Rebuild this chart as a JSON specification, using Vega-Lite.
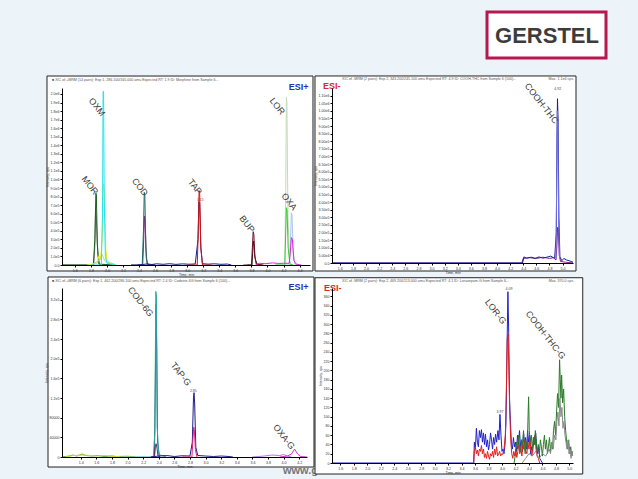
{
"$schema": "https://vega.github.io/schema/vega-lite/v6.json",
"autosize": {"type": "none"},
"padding": {"left": 62, "top": 88, "right": 576, "bottom": 391},
"background": "#edf4f9",
"config": {
  "view": {"stroke": null},
  "font": "Liberation Sans",
  "axis": {"domainColor": "#000000", "domainWidth": 1, "tickColor": "#000000", "tickSize": 2, "labelFontSize": 3.6, "labelColor": "#333333", "labelPadding": 1, "labelOverlap": false, "titleFontSize": 3.5, "titleFontWeight": "normal", "titleColor": "#333333", "titlePadding": 1, "grid": false},
  "text": {"font": "Liberation Sans"}
},
"datasets": {
  "p1": [
    {"s":"a","t":1.44,"i":0},{"s":"a","t":1.835,"i":0},{"s":"a","t":1.848,"i":200000},{"s":"a","t":1.858,"i":640000},{"s":"a","t":1.868,"i":550000},{"s":"a","t":1.885,"i":120000},{"s":"a","t":1.91,"i":0},{"s":"a","t":2.1,"i":0},
    {"s":"b","t":1.44,"i":0},{"s":"b","t":1.83,"i":0},{"s":"b","t":1.85,"i":300000},{"s":"b","t":1.862,"i":840000},{"s":"b","t":1.868,"i":820000},{"s":"b","t":1.88,"i":250000},{"s":"b","t":1.9,"i":10000},{"s":"b","t":2.1,"i":0},
    {"s":"c","t":1.75,"i":0},{"s":"c","t":1.88,"i":20000},{"s":"c","t":1.9,"i":110000},{"s":"c","t":1.92,"i":60000},{"s":"c","t":1.94,"i":300000},{"s":"c","t":1.955,"i":950000},{"s":"c","t":1.97,"i":850000},{"s":"c","t":1.985,"i":200000},{"s":"c","t":2.0,"i":50000},{"s":"c","t":2.05,"i":20000},{"s":"c","t":2.1,"i":0},
    {"s":"d","t":1.8,"i":0},{"s":"d","t":1.9,"i":50000},{"s":"d","t":1.94,"i":120000},{"s":"d","t":1.98,"i":40000},{"s":"d","t":2.06,"i":20000},{"s":"d","t":2.12,"i":0},
    {"s":"e","t":1.8,"i":0},{"s":"e","t":1.93,"i":0},{"s":"e","t":1.945,"i":600000},{"s":"e","t":1.952,"i":2030000},{"s":"e","t":1.958,"i":2030000},{"s":"e","t":1.966,"i":800000},{"s":"e","t":1.98,"i":100000},{"s":"e","t":2.0,"i":20000},{"s":"e","t":2.1,"i":0},
    {"s":"f","t":2.3,"i":0},{"s":"f","t":2.445,"i":0},{"s":"f","t":2.458,"i":300000},{"s":"f","t":2.468,"i":570000},{"s":"f","t":2.476,"i":500000},{"s":"f","t":2.49,"i":80000},{"s":"f","t":2.51,"i":0},{"s":"f","t":2.6,"i":0},
    {"s":"g","t":2.3,"i":0},{"s":"g","t":2.44,"i":0},{"s":"g","t":2.455,"i":400000},{"s":"g","t":2.465,"i":850000},{"s":"g","t":2.472,"i":820000},{"s":"g","t":2.485,"i":200000},{"s":"g","t":2.5,"i":10000},{"s":"g","t":2.6,"i":0},
    {"s":"h","t":2.38,"i":0},{"s":"h","t":2.44,"i":5000},{"s":"h","t":2.5,"i":12000},{"s":"h","t":2.56,"i":6000},{"s":"h","t":2.62,"i":14000},{"s":"h","t":2.7,"i":8000},{"s":"h","t":2.78,"i":15000},{"s":"h","t":2.86,"i":7000},{"s":"h","t":2.94,"i":13000},{"s":"h","t":3.02,"i":9000},{"s":"h","t":3.1,"i":12000},{"s":"h","t":3.135,"i":300000},{"s":"h","t":3.145,"i":740000},{"s":"h","t":3.155,"i":720000},{"s":"h","t":3.17,"i":200000},{"s":"h","t":3.19,"i":15000},{"s":"h","t":3.26,"i":10000},{"s":"h","t":3.34,"i":14000},{"s":"h","t":3.42,"i":8000},{"s":"h","t":3.5,"i":11000},{"s":"h","t":3.55,"i":0},
    {"s":"i","t":3.0,"i":0},{"s":"i","t":3.125,"i":0},{"s":"i","t":3.138,"i":400000},{"s":"i","t":3.148,"i":870000},{"s":"i","t":3.155,"i":850000},{"s":"i","t":3.17,"i":200000},{"s":"i","t":3.19,"i":0},{"s":"i","t":3.3,"i":0},
    {"s":"j","t":3.75,"i":0},{"s":"j","t":3.808,"i":0},{"s":"j","t":3.82,"i":220000},{"s":"j","t":3.828,"i":280000},{"s":"j","t":3.84,"i":120000},{"s":"j","t":3.86,"i":10000},{"s":"j","t":3.9,"i":0},
    {"s":"k","t":3.7,"i":0},{"s":"k","t":3.8,"i":0},{"s":"k","t":3.812,"i":200000},{"s":"k","t":3.822,"i":390000},{"s":"k","t":3.83,"i":360000},{"s":"k","t":3.845,"i":80000},{"s":"k","t":3.87,"i":10000},{"s":"k","t":3.95,"i":0},
    {"s":"l","t":4.1,"i":0},{"s":"l","t":4.215,"i":0},{"s":"l","t":4.228,"i":900000},{"s":"l","t":4.236,"i":1960000},{"s":"l","t":4.242,"i":1900000},{"s":"l","t":4.255,"i":600000},{"s":"l","t":4.275,"i":50000},{"s":"l","t":4.3,"i":0},
    {"s":"m","t":4.1,"i":0},{"s":"m","t":4.216,"i":0},{"s":"m","t":4.228,"i":400000},{"s":"m","t":4.236,"i":670000},{"s":"m","t":4.244,"i":640000},{"s":"m","t":4.258,"i":200000},{"s":"m","t":4.28,"i":10000},{"s":"m","t":4.32,"i":0},
    {"s":"n","t":4.2,"i":0},{"s":"n","t":4.275,"i":0},{"s":"n","t":4.288,"i":300000},{"s":"n","t":4.298,"i":610000},{"s":"n","t":4.306,"i":580000},{"s":"n","t":4.32,"i":150000},{"s":"n","t":4.34,"i":10000},{"s":"n","t":4.4,"i":0},
    {"s":"o","t":3.85,"i":0},{"s":"o","t":3.9,"i":20000},{"s":"o","t":3.98,"i":15000},{"s":"o","t":4.06,"i":25000},{"s":"o","t":4.14,"i":18000},{"s":"o","t":4.2,"i":20000},{"s":"o","t":4.27,"i":20000},{"s":"o","t":4.285,"i":150000},{"s":"o","t":4.298,"i":320000},{"s":"o","t":4.31,"i":300000},{"s":"o","t":4.33,"i":50000},{"s":"o","t":4.36,"i":10000},{"s":"o","t":4.42,"i":0}
  ],
  "p2": [
    {"s":"a","t":1.48,"i":0},{"s":"a","t":4.38,"i":0},{"s":"a","t":4.4,"i":30000},{"s":"a","t":4.5,"i":35000},{"s":"a","t":4.6,"i":30000},{"s":"a","t":4.7,"i":38000},{"s":"a","t":4.8,"i":30000},{"s":"a","t":4.86,"i":35000},{"s":"a","t":4.9,"i":20000},{"s":"a","t":4.915,"i":120000},{"s":"a","t":4.925,"i":235000},{"s":"a","t":4.935,"i":230000},{"s":"a","t":4.95,"i":50000},{"s":"a","t":4.97,"i":10000},{"s":"a","t":5.05,"i":5000},{"s":"a","t":5.16,"i":0},
    {"s":"b","t":1.48,"i":0},{"s":"b","t":4.39,"i":0},{"s":"b","t":4.41,"i":40000},{"s":"b","t":4.45,"i":32000},{"s":"b","t":4.52,"i":38000},{"s":"b","t":4.58,"i":30000},{"s":"b","t":4.64,"i":40000},{"s":"b","t":4.7,"i":32000},{"s":"b","t":4.76,"i":38000},{"s":"b","t":4.82,"i":45000},{"s":"b","t":4.86,"i":35000},{"s":"b","t":4.88,"i":32000},{"s":"b","t":4.905,"i":200000},{"s":"b","t":4.915,"i":800000},{"s":"b","t":4.923,"i":1080000},{"s":"b","t":4.932,"i":950000},{"s":"b","t":4.945,"i":300000},{"s":"b","t":4.96,"i":40000},{"s":"b","t":4.99,"i":15000},{"s":"b","t":5.02,"i":30000},{"s":"b","t":5.06,"i":20000},{"s":"b","t":5.1,"i":15000},{"s":"b","t":5.16,"i":5000},
    {"s":"c","t":4.9,"i":30000},{"s":"c","t":4.912,"i":600000},{"s":"c","t":4.92,"i":1000000},{"s":"c","t":4.93,"i":900000},{"s":"c","t":4.94,"i":300000},{"s":"c","t":4.955,"i":30000}
  ],
  "p3": [
    {"s":"a","t":1.16,"i":0},{"s":"a","t":1.25,"i":2000},{"s":"a","t":1.3,"i":4000},{"s":"a","t":1.35,"i":2000},{"s":"a","t":1.42,"i":6000},{"s":"a","t":1.46,"i":3000},{"s":"a","t":1.55,"i":2000},{"s":"a","t":1.62,"i":3000},{"s":"a","t":1.7,"i":1000},{"s":"a","t":1.8,"i":2000},{"s":"a","t":1.9,"i":0},
    {"s":"b","t":1.2,"i":0},{"s":"b","t":1.3,"i":3000},{"s":"b","t":1.45,"i":4000},{"s":"b","t":1.6,"i":2000},{"s":"b","t":1.7,"i":3000},{"s":"b","t":1.85,"i":1000},{"s":"b","t":2.0,"i":2000},{"s":"b","t":2.1,"i":0},
    {"s":"c","t":2.3,"i":0},{"s":"c","t":2.345,"i":0},{"s":"c","t":2.356,"i":150000},{"s":"c","t":2.366,"i":310000},{"s":"c","t":2.374,"i":220000},{"s":"c","t":2.385,"i":30000},{"s":"c","t":2.41,"i":0},
    {"s":"d","t":1.9,"i":0},{"s":"d","t":2.33,"i":0},{"s":"d","t":2.35,"i":50000},{"s":"d","t":2.362,"i":337000},{"s":"d","t":2.37,"i":330000},{"s":"d","t":2.38,"i":60000},{"s":"d","t":2.4,"i":5000},{"s":"d","t":2.5,"i":0},
    {"s":"e","t":2.3,"i":0},{"s":"e","t":2.345,"i":0},{"s":"e","t":2.358,"i":22000},{"s":"e","t":2.366,"i":27000},{"s":"e","t":2.378,"i":18000},{"s":"e","t":2.39,"i":2000},{"s":"e","t":2.42,"i":0},
    {"s":"f","t":2.3,"i":0},{"s":"f","t":2.4,"i":2000},{"s":"f","t":2.5,"i":3000},{"s":"f","t":2.6,"i":1000},{"s":"f","t":2.7,"i":2500},{"s":"f","t":2.8,"i":2000},{"s":"f","t":2.83,"i":30000},{"s":"f","t":2.845,"i":120000},{"s":"f","t":2.852,"i":131000},{"s":"f","t":2.86,"i":110000},{"s":"f","t":2.875,"i":20000},{"s":"f","t":2.9,"i":3000},{"s":"f","t":3.0,"i":2000},{"s":"f","t":3.1,"i":1000},{"s":"f","t":3.2,"i":2000},{"s":"f","t":3.3,"i":1000},{"s":"f","t":3.35,"i":0},
    {"s":"g","t":2.7,"i":0},{"s":"g","t":2.825,"i":0},{"s":"g","t":2.838,"i":35000},{"s":"g","t":2.848,"i":61000},{"s":"g","t":2.856,"i":55000},{"s":"g","t":2.87,"i":15000},{"s":"g","t":2.89,"i":0},
    {"s":"h","t":3.6,"i":0},{"s":"h","t":3.75,"i":2000},{"s":"h","t":3.85,"i":4000},{"s":"h","t":3.95,"i":3000},{"s":"h","t":4.0,"i":5000},{"s":"h","t":4.05,"i":2000},{"s":"h","t":4.1,"i":0},
    {"s":"i","t":3.95,"i":0},{"s":"i","t":4.05,"i":2000},{"s":"i","t":4.1,"i":6000},{"s":"i","t":4.14,"i":16000},{"s":"i","t":4.18,"i":6000},{"s":"i","t":4.22,"i":1000},{"s":"i","t":4.3,"i":0}
  ],
  "p4": [
    {"s":"a","t":1.48,"i":0},{"s":"a","t":3.58,"i":0},{"s":"a","t":3.59,"i":45},{"s":"a","t":3.605,"i":30},{"s":"a","t":3.62,"i":75},{"s":"a","t":3.635,"i":45},{"s":"a","t":3.65,"i":35},{"s":"a","t":3.665,"i":70},{"s":"a","t":3.68,"i":55},{"s":"a","t":3.695,"i":72},{"s":"a","t":3.71,"i":45},{"s":"a","t":3.725,"i":65},{"s":"a","t":3.74,"i":40},{"s":"a","t":3.755,"i":62},{"s":"a","t":3.77,"i":35},{"s":"a","t":3.785,"i":50},{"s":"a","t":3.8,"i":28},{"s":"a","t":3.815,"i":40},{"s":"a","t":3.83,"i":65},{"s":"a","t":3.845,"i":50},{"s":"a","t":3.86,"i":30},{"s":"a","t":3.875,"i":55},{"s":"a","t":3.89,"i":40},{"s":"a","t":3.905,"i":62},{"s":"a","t":3.92,"i":45},{"s":"a","t":3.94,"i":70},{"s":"a","t":3.955,"i":50},{"s":"a","t":3.97,"i":105},{"s":"a","t":3.985,"i":60},{"s":"a","t":4.0,"i":25},{"s":"a","t":4.015,"i":30},{"s":"a","t":4.03,"i":20},{"s":"a","t":4.045,"i":40},{"s":"a","t":4.06,"i":90},{"s":"a","t":4.075,"i":250},{"s":"a","t":4.088,"i":370},{"s":"a","t":4.1,"i":280},{"s":"a","t":4.112,"i":140},{"s":"a","t":4.125,"i":90},{"s":"a","t":4.14,"i":40},{"s":"a","t":4.155,"i":30},{"s":"a","t":4.17,"i":55},{"s":"a","t":4.185,"i":35},{"s":"a","t":4.2,"i":45},{"s":"a","t":4.215,"i":25},{"s":"a","t":4.23,"i":60},{"s":"a","t":4.245,"i":40},{"s":"a","t":4.26,"i":70},{"s":"a","t":4.275,"i":35},{"s":"a","t":4.29,"i":50},{"s":"a","t":4.305,"i":25},{"s":"a","t":4.32,"i":65},{"s":"a","t":4.335,"i":40},{"s":"a","t":4.35,"i":55},{"s":"a","t":4.365,"i":30},{"s":"a","t":4.38,"i":70},{"s":"a","t":4.395,"i":45},{"s":"a","t":4.41,"i":60},{"s":"a","t":4.425,"i":20},{"s":"a","t":4.44,"i":35},{"s":"a","t":4.455,"i":25},{"s":"a","t":4.47,"i":55},{"s":"a","t":4.485,"i":40},{"s":"a","t":4.5,"i":65},{"s":"a","t":4.515,"i":30},{"s":"a","t":4.53,"i":20},{"s":"a","t":4.545,"i":35},{"s":"a","t":4.56,"i":10},{"s":"a","t":4.58,"i":5},{"s":"a","t":4.6,"i":0},
    {"s":"b","t":3.58,"i":0},{"s":"b","t":3.59,"i":25},{"s":"b","t":3.605,"i":35},{"s":"b","t":3.62,"i":20},{"s":"b","t":3.635,"i":28},{"s":"b","t":3.65,"i":15},{"s":"b","t":3.665,"i":30},{"s":"b","t":3.68,"i":25},{"s":"b","t":3.695,"i":38},{"s":"b","t":3.71,"i":20},{"s":"b","t":3.725,"i":30},{"s":"b","t":3.74,"i":12},{"s":"b","t":3.755,"i":20},{"s":"b","t":3.77,"i":10},{"s":"b","t":3.785,"i":25},{"s":"b","t":3.8,"i":15},{"s":"b","t":3.815,"i":8},{"s":"b","t":3.83,"i":20},{"s":"b","t":3.845,"i":15},{"s":"b","t":3.86,"i":25},{"s":"b","t":3.875,"i":12},{"s":"b","t":3.89,"i":30},{"s":"b","t":3.905,"i":18},{"s":"b","t":3.92,"i":35},{"s":"b","t":3.935,"i":15},{"s":"b","t":3.95,"i":20},{"s":"b","t":3.965,"i":25},{"s":"b","t":3.98,"i":15},{"s":"b","t":3.995,"i":20},{"s":"b","t":4.01,"i":18},{"s":"b","t":4.03,"i":30},{"s":"b","t":4.05,"i":60},{"s":"b","t":4.065,"i":160},{"s":"b","t":4.078,"i":270},{"s":"b","t":4.09,"i":280},{"s":"b","t":4.102,"i":200},{"s":"b","t":4.115,"i":110},{"s":"b","t":4.13,"i":50},{"s":"b","t":4.145,"i":20},{"s":"b","t":4.16,"i":10},{"s":"b","t":4.175,"i":25},{"s":"b","t":4.19,"i":15},{"s":"b","t":4.205,"i":30},{"s":"b","t":4.22,"i":12},{"s":"b","t":4.235,"i":25},{"s":"b","t":4.25,"i":40},{"s":"b","t":4.265,"i":20},{"s":"b","t":4.28,"i":35},{"s":"b","t":4.295,"i":15},{"s":"b","t":4.31,"i":40},{"s":"b","t":4.325,"i":30},{"s":"b","t":4.34,"i":50},{"s":"b","t":4.355,"i":25},{"s":"b","t":4.37,"i":20},{"s":"b","t":4.385,"i":45},{"s":"b","t":4.4,"i":30},{"s":"b","t":4.415,"i":55},{"s":"b","t":4.43,"i":25},{"s":"b","t":4.445,"i":15},{"s":"b","t":4.46,"i":35},{"s":"b","t":4.475,"i":45},{"s":"b","t":4.49,"i":60},{"s":"b","t":4.505,"i":30},{"s":"b","t":4.52,"i":15},{"s":"b","t":4.54,"i":10},{"s":"b","t":4.56,"i":0},
    {"s":"c","t":4.18,"i":0},{"s":"c","t":4.2,"i":20},{"s":"c","t":4.215,"i":45},{"s":"c","t":4.23,"i":30},{"s":"c","t":4.245,"i":60},{"s":"c","t":4.26,"i":35},{"s":"c","t":4.275,"i":25},{"s":"c","t":4.29,"i":50},{"s":"c","t":4.305,"i":40},{"s":"c","t":4.32,"i":70},{"s":"c","t":4.33,"i":35},{"s":"c","t":4.345,"i":20},{"s":"c","t":4.36,"i":45},{"s":"c","t":4.375,"i":30},{"s":"c","t":4.385,"i":90},{"s":"c","t":4.395,"i":143},{"s":"c","t":4.405,"i":70},{"s":"c","t":4.42,"i":45},{"s":"c","t":4.435,"i":60},{"s":"c","t":4.45,"i":30},{"s":"c","t":4.465,"i":55},{"s":"c","t":4.48,"i":40},{"s":"c","t":4.495,"i":70},{"s":"c","t":4.51,"i":45},{"s":"c","t":4.525,"i":25},{"s":"c","t":4.54,"i":40},{"s":"c","t":4.555,"i":20},{"s":"c","t":4.57,"i":50},{"s":"c","t":4.585,"i":35},{"s":"c","t":4.6,"i":15},{"s":"c","t":4.615,"i":40},{"s":"c","t":4.63,"i":60},{"s":"c","t":4.645,"i":30},{"s":"c","t":4.66,"i":50},{"s":"c","t":4.675,"i":20},{"s":"c","t":4.69,"i":35},{"s":"c","t":4.705,"i":55},{"s":"c","t":4.72,"i":25},{"s":"c","t":4.735,"i":45},{"s":"c","t":4.75,"i":30},{"s":"c","t":4.765,"i":70},{"s":"c","t":4.78,"i":90},{"s":"c","t":4.795,"i":60},{"s":"c","t":4.81,"i":110},{"s":"c","t":4.825,"i":150},{"s":"c","t":4.84,"i":120},{"s":"c","t":4.855,"i":223},{"s":"c","t":4.865,"i":180},{"s":"c","t":4.875,"i":140},{"s":"c","t":4.885,"i":190},{"s":"c","t":4.9,"i":130},{"s":"c","t":4.915,"i":160},{"s":"c","t":4.93,"i":100},{"s":"c","t":4.945,"i":70},{"s":"c","t":4.96,"i":45},{"s":"c","t":4.975,"i":30},{"s":"c","t":4.99,"i":50},{"s":"c","t":5.005,"i":20},{"s":"c","t":5.02,"i":35},{"s":"c","t":5.035,"i":15},{"s":"c","t":5.05,"i":25},
    {"s":"d","t":4.3,"i":0},{"s":"d","t":4.35,"i":10},{"s":"d","t":4.4,"i":20},{"s":"d","t":4.45,"i":15},{"s":"d","t":4.5,"i":25},{"s":"d","t":4.55,"i":10},{"s":"d","t":4.6,"i":20},{"s":"d","t":4.65,"i":15},{"s":"d","t":4.7,"i":30},{"s":"d","t":4.72,"i":20},{"s":"d","t":4.74,"i":45},{"s":"d","t":4.76,"i":30},{"s":"d","t":4.78,"i":60},{"s":"d","t":4.8,"i":50},{"s":"d","t":4.815,"i":90},{"s":"d","t":4.83,"i":110},{"s":"d","t":4.845,"i":80},{"s":"d","t":4.86,"i":140},{"s":"d","t":4.875,"i":100},{"s":"d","t":4.89,"i":120},{"s":"d","t":4.905,"i":75},{"s":"d","t":4.92,"i":90},{"s":"d","t":4.935,"i":60},{"s":"d","t":4.95,"i":45},{"s":"d","t":4.965,"i":30},{"s":"d","t":4.98,"i":50},{"s":"d","t":4.995,"i":20},{"s":"d","t":5.01,"i":30},{"s":"d","t":5.025,"i":10},{"s":"d","t":5.04,"i":25},{"s":"d","t":5.05,"i":15}
  ]
},
"columns": 2,
"spacing": {"row": 23, "column": 22},
"bounds": "flush",
"resolve": {"scale": {"color": "independent"}},
"concat": [
  {
    "width": 248, "height": 177,
    "layer": [
      {"data": {"values": [{}]}, "mark": {"type": "rect", "fill": "white", "stroke": "#222222", "strokeWidth": 1},
       "encoding": {
         "x": {"datum": 1.253, "type": "quantitative", "scale": {"domain": [1.44, 4.53], "nice": false, "zero": false}, "axis": {"zindex": 1, "labelOverlap": false, "tickCount": 15, "title": "Time, min", "values": [1.6,1.8,2.0,2.2,2.4,2.6,2.8,3.0,3.2,3.4,3.6,3.8,4.0,4.2,4.4], "format": ".1f"}},
         "x2": {"datum": 4.567},
         "y": {"datum": 2210000, "type": "quantitative", "scale": {"domain": [0, 2070000], "nice": false}, "axis": {"zindex": 1, "labelOverlap": false, "tickCount": 21, "title": "Intensity, cps", "values": [0,100000,200000,300000,400000,500000,600000,700000,800000,900000,1000000,1100000,1200000,1300000,1400000,1500000,1600000,1700000,1800000,1900000,2000000], "labelExpr": "datum.value == 0 ? '0.0' : replace(format(datum.value, '.1e'), 'e+', 'e')"}},
         "y2": {"datum": -70000}}},
      {"data": {"name": "p1"}, "mark": {"type": "line", "strokeWidth": 1},
       "encoding": {
         "x": {"field": "t", "type": "quantitative", "axis": {"zindex": 1, "labelOverlap": false, "tickCount": 15, "title": "Time, min", "values": [1.6,1.8,2.0,2.2,2.4,2.6,2.8,3.0,3.2,3.4,3.6,3.8,4.0,4.2,4.4], "format": ".1f"}},
         "y": {"field": "i", "type": "quantitative", "axis": {"zindex": 1, "labelOverlap": false, "tickCount": 21, "title": "Intensity, cps", "values": [0,100000,200000,300000,400000,500000,600000,700000,800000,900000,1000000,1100000,1200000,1300000,1400000,1500000,1600000,1700000,1800000,1900000,2000000], "labelExpr": "datum.value == 0 ? '0.0' : replace(format(datum.value, '.1e'), 'e+', 'e')"}},
         "color": {"field": "s", "type": "nominal", "legend": null, "scale": {"domain": ["a","b","c","d","e","f","g","h","i","j","k","l","m","n","o"], "range": ["#7b7b7b","#1d5e1d","#e4ec1e","#a2e08a","#27e2ec","#7d1e7d","#1f6a6a","#1a1a8c","#cc1414","#3a1a1a","#6b0f26","#c5dbb8","#2fd02f","#a9c5ee","#e024e0"]}}
       }},
      {"data": {"values": [{"t":1.3154,"i":2164000,"label":"■ XIC of +MRM (14 pairs): Exp 1, 286.100/165.000 amu Expected RT: 1.9 ID: Morphine from Sample 6..."}]},
       "mark": {"type": "text", "fontSize": 3.6, "color": "#555555", "align": "left", "baseline": "middle"},
       "encoding": {"x": {"field": "t", "type": "quantitative"}, "y": {"field": "i", "type": "quantitative"}, "text": {"field": "label"}}},
      {"data": {"values": [{"t":1.876,"i":1848000,"label":"OXM"},{"t":1.789,"i":932000,"label":"MOR"},{"t":2.412,"i":912000,"label":"COD"},{"t":3.097,"i":916000,"label":"TAP"},{"t":3.745,"i":479000,"label":"BUP"},{"t":4.123,"i":1856000,"label":"LOR"},{"t":4.272,"i":740000,"label":"OXA"}]},
       "mark": {"type": "text", "angle": 52, "fontSize": 9, "color": "#3a3a3a", "align": "center", "baseline": "middle"},
       "encoding": {"x": {"field": "t", "type": "quantitative"}, "y": {"field": "i", "type": "quantitative"}, "text": {"field": "label"}}},
      {"data": {"values": [{"t":3.163,"i":757000,"label":"3.15"}]},
       "mark": {"type": "text", "fontSize": 3.5, "color": "#c03030", "align": "center", "baseline": "middle"},
       "encoding": {"x": {"field": "t", "type": "quantitative"}, "y": {"field": "i", "type": "quantitative"}, "text": {"field": "label"}}},
      {"data": {"values": [{"t":4.387,"i":2082000,"label":"ESI+"}]},
       "mark": {"type": "text", "fontSize": 9, "fontWeight": "bold", "color": "#2233aa", "align": "center", "baseline": "middle"},
       "encoding": {"x": {"field": "t", "type": "quantitative"}, "y": {"field": "i", "type": "quantitative"}, "text": {"field": "label"}}}
    ]
  },
  {
    "width": 241, "height": 175,
    "layer": [
      {"data": {"values": [{}]}, "mark": {"type": "rect", "fill": "white", "stroke": "#222222", "strokeWidth": 1},
       "encoding": {
         "x": {"datum": 1.2204, "type": "quantitative", "scale": {"domain": [1.48, 5.16], "nice": false, "zero": false}, "axis": {"zindex": 1, "labelOverlap": false, "tickCount": 18, "title": "Time, min", "values": [1.6,1.8,2.0,2.2,2.4,2.6,2.8,3.0,3.2,3.4,3.6,3.8,4.0,4.2,4.4,4.6,4.8,5.0], "format": ".1f"}},
         "x2": {"datum": 5.206},
         "y": {"datum": 1229000, "type": "quantitative", "scale": {"domain": [0, 1150000], "nice": false}, "axis": {"zindex": 1, "labelOverlap": false, "tickCount": 23, "title": "Intensity, cps", "values": [0,50000,100000,150000,200000,250000,300000,350000,400000,450000,500000,550000,600000,650000,700000,750000,800000,850000,900000,950000,1000000,1050000,1100000], "labelExpr": "datum.value == 0 ? '0.0' : replace(format(datum.value, '.2e'), 'e+', 'e')"}},
         "y2": {"datum": -52600}}},
      {"data": {"name": "p2"}, "mark": {"type": "line", "strokeWidth": 1},
       "encoding": {
         "x": {"field": "t", "type": "quantitative", "axis": {"zindex": 1, "labelOverlap": false, "tickCount": 18, "title": "Time, min", "values": [1.6,1.8,2.0,2.2,2.4,2.6,2.8,3.0,3.2,3.4,3.6,3.8,4.0,4.2,4.4,4.6,4.8,5.0], "format": ".1f"}},
         "y": {"field": "i", "type": "quantitative", "axis": {"zindex": 1, "labelOverlap": false, "tickCount": 23, "title": "Intensity, cps", "values": [0,50000,100000,150000,200000,250000,300000,350000,400000,450000,500000,550000,600000,650000,700000,750000,800000,850000,900000,950000,1000000,1050000,1100000], "labelExpr": "datum.value == 0 ? '0.0' : replace(format(datum.value, '.2e'), 'e+', 'e')"}},
         "color": {"field": "s", "type": "nominal", "legend": null, "scale": {"domain": ["a","b","c"], "range": ["#8a1c8a","#1c1c9a","#7070e0"]}}
       }},
      {"data": {"values": [{"t":1.6327,"i":1209000,"label":"XIC of -MRM (2 pairs): Exp 2, 343.200/245.100 amu Expected RT: 4.9 ID: COOH-THC from Sample 6 (100)..."}]},
       "mark": {"type": "text", "fontSize": 3.6, "color": "#555555", "align": "left", "baseline": "middle"},
       "encoding": {"x": {"field": "t", "type": "quantitative"}, "y": {"field": "i", "type": "quantitative"}, "text": {"field": "label"}}},
      {"data": {"values": [{"t":5.175,"i":1209000,"label":"Max. 1.1e6 cps."}]},
       "mark": {"type": "text", "fontSize": 3.6, "color": "#555555", "align": "right", "baseline": "middle"},
       "encoding": {"x": {"field": "t", "type": "quantitative"}, "y": {"field": "i", "type": "quantitative"}, "text": {"field": "label"}}},
      {"data": {"values": [{"t":4.68,"i":1049000,"label":"COOH-THC"}]},
       "mark": {"type": "text", "angle": 52, "fontSize": 9, "color": "#3a3a3a", "align": "center", "baseline": "middle"},
       "encoding": {"x": {"field": "t", "type": "quantitative"}, "y": {"field": "i", "type": "quantitative"}, "text": {"field": "label"}}},
      {"data": {"values": [{"t":4.926,"i":1143000,"label":"4.92"}]},
       "mark": {"type": "text", "fontSize": 3.5, "color": "#444444", "align": "center", "baseline": "middle"},
       "encoding": {"x": {"field": "t", "type": "quantitative"}, "y": {"field": "i", "type": "quantitative"}, "text": {"field": "label"}}},
      {"data": {"values": [{"t":1.3426,"i":1160000,"label":"ESI-"}]},
       "mark": {"type": "text", "fontSize": 9, "fontWeight": "bold", "color": "#e02828", "align": "left", "baseline": "middle"},
       "encoding": {"x": {"field": "t", "type": "quantitative"}, "y": {"field": "i", "type": "quantitative"}, "text": {"field": "label"}}},
      {"data": {"values": [{}]}, "mark": {"type": "rect", "fill": "white", "stroke": "#b5174f", "strokeWidth": 3},
       "encoding": {"x": {"datum": 3.847, "type": "quantitative"}, "x2": {"datum": 5.664}, "y": {"datum": 1649000, "type": "quantitative"}, "y2": {"datum": 1347000}}},
      {"data": {"values": [{"t":4.763,"i":1492000,"label":"GERSTEL"}]},
       "mark": {"type": "text", "fontSize": 22, "fontWeight": "bold", "color": "#3c3c3c", "align": "center", "baseline": "middle"},
       "encoding": {"x": {"field": "t", "type": "quantitative"}, "y": {"field": "i", "type": "quantitative"}, "text": {"field": "label"}}}
    ]
  },
  {
    "width": 245, "height": 169,
    "layer": [
      {"data": {"values": [{}]}, "mark": {"type": "rect", "fill": "white", "stroke": "#222222", "strokeWidth": 1},
       "encoding": {
         "x": {"datum": 0.9806, "type": "quantitative", "scale": {"domain": [1.16, 4.3], "nice": false, "zero": false}, "axis": {"zindex": 1, "labelOverlap": false, "tickCount": 15, "title": "Time, min", "values": [1.4,1.6,1.8,2.0,2.2,2.4,2.6,2.8,3.0,3.2,3.4,3.6,3.8,4.0,4.2], "format": ".1f"}},
         "x2": {"datum": 4.3896},
         "y": {"datum": 366400, "type": "quantitative", "scale": {"domain": [0, 344000], "nice": false}, "axis": {"zindex": 1, "labelOverlap": false, "tickCount": 17, "title": "Intensity, cps", "values": [0,20000,40000,60000,80000,100000,120000,140000,160000,180000,200000,220000,240000,260000,280000,300000,320000,340000], "labelExpr": "datum.value >= 100000 ? replace(format(datum.value, '.1e'), 'e+', 'e') : format(datum.value, 'd')"}},
         "y2": {"datum": -20400}}},
      {"data": {"name": "p3"}, "mark": {"type": "line", "strokeWidth": 1},
       "encoding": {
         "x": {"field": "t", "type": "quantitative", "axis": {"zindex": 1, "labelOverlap": false, "tickCount": 15, "title": "Time, min", "values": [1.4,1.6,1.8,2.0,2.2,2.4,2.6,2.8,3.0,3.2,3.4,3.6,3.8,4.0,4.2], "format": ".1f"}},
         "y": {"field": "i", "type": "quantitative", "axis": {"zindex": 1, "labelOverlap": false, "tickCount": 17, "title": "Intensity, cps", "values": [0,20000,40000,60000,80000,100000,120000,140000,160000,180000,200000,220000,240000,260000,280000,300000,320000,340000], "labelExpr": "datum.value >= 100000 ? replace(format(datum.value, '.1e'), 'e+', 'e') : format(datum.value, 'd')"}},
         "color": {"field": "s", "type": "nominal", "legend": null, "scale": {"domain": ["a","b","c","d","e","f","g","h","i"], "range": ["#3fae3f","#d6d81e","#1e5656","#2ea4a4","#7c1e7c","#1c1c8c","#e2267a","#b07adc","#d22ed2"]}}
       }},
      {"data": {"values": [{"t":1.0318,"i":358250,"label":"■ XIC of +MRM (6 pairs): Exp 1, 462.200/286.100 amu Expected RT: 2.4 ID: Codeine-6G from Sample 6 (100)..."}]},
       "mark": {"type": "text", "fontSize": 3.6, "color": "#555555", "align": "left", "baseline": "middle"},
       "encoding": {"x": {"field": "t", "type": "quantitative"}, "y": {"field": "i", "type": "quantitative"}, "text": {"field": "label"}}},
      {"data": {"values": [{"t":2.169,"i":316100,"label":"COD-6G"},{"t":2.685,"i":168900,"label":"TAP-G"},{"t":4.005,"i":41300,"label":"OXA-G"}]},
       "mark": {"type": "text", "angle": 52, "fontSize": 9, "color": "#3a3a3a", "align": "center", "baseline": "middle"},
       "encoding": {"x": {"field": "t", "type": "quantitative"}, "y": {"field": "i", "type": "quantitative"}, "text": {"field": "label"}}},
      {"data": {"values": [{"t":2.843,"i":134300,"label":"2.85"}]},
       "mark": {"type": "text", "fontSize": 3.5, "color": "#444444", "align": "center", "baseline": "middle"},
       "encoding": {"x": {"field": "t", "type": "quantitative"}, "y": {"field": "i", "type": "quantitative"}, "text": {"field": "label"}}},
      {"data": {"values": [{"t":4.191,"i":346000,"label":"ESI+"}]},
       "mark": {"type": "text", "fontSize": 9, "fontWeight": "bold", "color": "#2233aa", "align": "center", "baseline": "middle"},
       "encoding": {"x": {"field": "t", "type": "quantitative"}, "y": {"field": "i", "type": "quantitative"}, "text": {"field": "label"}}},
      {"data": {"values": [{"t":3.992,"i":-28500,"label":"www.g"}]},
       "mark": {"type": "text", "fontSize": 11, "fontWeight": "bold", "color": "#777777", "align": "left", "baseline": "middle"},
       "encoding": {"x": {"field": "t", "type": "quantitative"}, "y": {"field": "i", "type": "quantitative"}, "text": {"field": "label"}}}
    ]
  },
  {
    "width": 241, "height": 175,
    "layer": [
      {"data": {"values": [{}]}, "mark": {"type": "rect", "fill": "white", "stroke": "#222222", "strokeWidth": 1},
       "encoding": {
         "x": {"datum": 1.2247, "type": "quantitative", "scale": {"domain": [1.477, 5.054], "nice": false, "zero": false}, "axis": {"zindex": 1, "labelOverlap": false, "tickCount": 18, "title": "Time, min", "values": [1.6,1.8,2.0,2.2,2.4,2.6,2.8,3.0,3.2,3.4,3.6,3.8,4.0,4.2,4.4,4.6,4.8,5.0], "format": ".1f"}},
         "x2": {"datum": 5.1985},
         "y": {"datum": 400.2, "type": "quantitative", "scale": {"domain": [0, 378], "nice": false}, "axis": {"zindex": 1, "labelOverlap": false, "tickCount": 19, "title": "Intensity, cps", "values": [0,20,40,60,80,100,120,140,160,180,200,220,240,260,280,300,320,340,360], "format": "d"}},
         "y2": {"datum": -23.8}}},
      {"data": {"name": "p4"}, "mark": {"type": "line", "strokeWidth": 1},
       "encoding": {
         "x": {"field": "t", "type": "quantitative", "axis": {"zindex": 1, "labelOverlap": false, "tickCount": 18, "title": "Time, min", "values": [1.6,1.8,2.0,2.2,2.4,2.6,2.8,3.0,3.2,3.4,3.6,3.8,4.0,4.2,4.4,4.6,4.8,5.0], "format": ".1f"}},
         "y": {"field": "i", "type": "quantitative", "axis": {"zindex": 1, "labelOverlap": false, "tickCount": 19, "title": "Intensity, cps", "values": [0,20,40,60,80,100,120,140,160,180,200,220,240,260,280,300,320,340,360], "format": "d"}},
         "color": {"field": "s", "type": "nominal", "legend": null, "scale": {"domain": ["a","b","c","d"], "range": ["#1f1fd0","#e41e1e","#2a7a2a","#8a8a8a"]}}
       }},
      {"data": {"values": [{"t":1.6254,"i":393.1,"label":"XIC of -MRM (2 pairs): Exp 2, 469.200/113.000 amu Expected RT: 4.1 ID: Lorazepam-G from Sample 6..."}]},
       "mark": {"type": "text", "fontSize": 3.6, "color": "#555555", "align": "left", "baseline": "middle"},
       "encoding": {"x": {"field": "t", "type": "quantitative"}, "y": {"field": "i", "type": "quantitative"}, "text": {"field": "label"}}},
      {"data": {"values": [{"t":5.069,"i":393.1,"label":"Max. 370.0 cps."}]},
       "mark": {"type": "text", "fontSize": 3.6, "color": "#555555", "align": "right", "baseline": "middle"},
       "encoding": {"x": {"field": "t", "type": "quantitative"}, "y": {"field": "i", "type": "quantitative"}, "text": {"field": "label"}}},
      {"data": {"values": [{"t":3.907,"i":326.8,"label":"LOR-G"},{"t":4.649,"i":276.5,"label":"COOH-THC-G"}]},
       "mark": {"type": "text", "angle": 52, "fontSize": 9, "color": "#3a3a3a", "align": "center", "baseline": "middle"},
       "encoding": {"x": {"field": "t", "type": "quantitative"}, "y": {"field": "i", "type": "quantitative"}, "text": {"field": "label"}}},
      {"data": {"values": [{"t":4.104,"i":375.8,"label":"4.09"},{"t":3.97,"i":109.5,"label":"3.97"}]},
       "mark": {"type": "text", "fontSize": 3.5, "color": "#444444", "align": "center", "baseline": "middle"},
       "encoding": {"x": {"field": "t", "type": "quantitative"}, "y": {"field": "i", "type": "quantitative"}, "text": {"field": "label"}}},
      {"data": {"values": [{"t":1.358,"i":379,"label":"ESI-"}]},
       "mark": {"type": "text", "fontSize": 9, "fontWeight": "bold", "color": "#e02828", "align": "left", "baseline": "middle"},
       "encoding": {"x": {"field": "t", "type": "quantitative"}, "y": {"field": "i", "type": "quantitative"}, "text": {"field": "label"}}}
    ]
  }
]
}
